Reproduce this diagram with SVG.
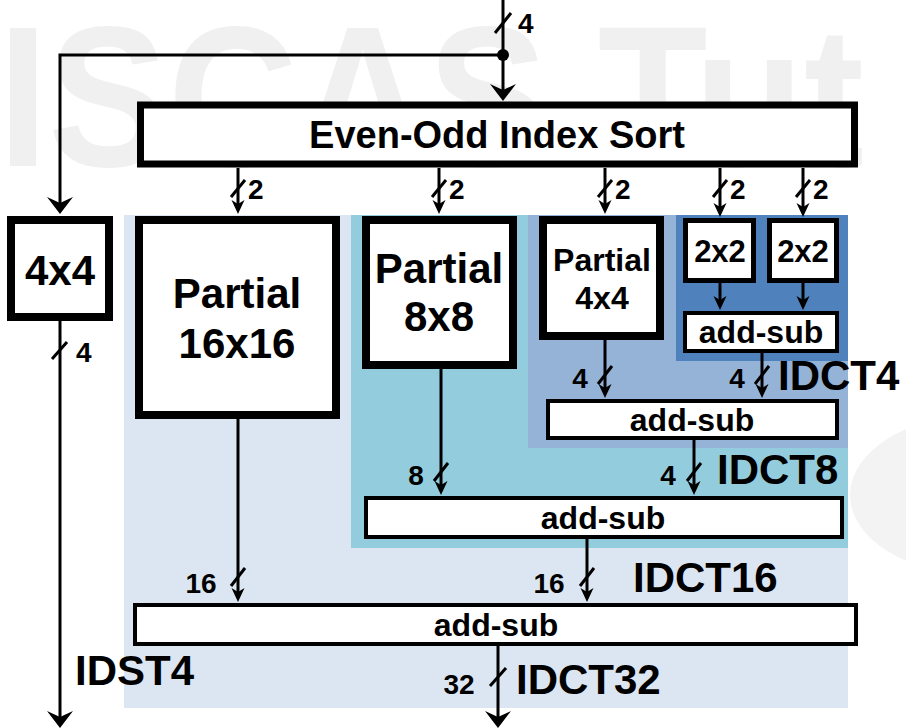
<svg xmlns="http://www.w3.org/2000/svg" width="906" height="728" viewBox="0 0 906 728">
<style>
.box{fill:#fff;stroke:#000}
.t{font-family:"Liberation Sans",Arial,sans-serif;font-weight:bold;fill:#000}
.big{font-size:42px}
.lbl{font-size:28px}
.as{font-size:32px}
.c{text-anchor:middle}
.ln{fill:none;stroke:#000;stroke-width:3}
.sl{stroke:#000;stroke-width:3;fill:none}
</style>
<defs>
<marker id="ab" markerUnits="userSpaceOnUse" markerWidth="30" markerHeight="30" viewBox="-20 -15 25 30" refX="-4" refY="0" orient="auto" overflow="visible">
<path d="M0,0 L-17,-13 L-11,0 L-17,13 Z" fill="#000"/>
</marker>
<marker id="as" markerUnits="userSpaceOnUse" markerWidth="20" markerHeight="20" viewBox="-16 -8 20 16" refX="-4" refY="0" orient="auto" overflow="visible">
<path d="M0,0 L-14,-6.5 L-10,0 L-14,6.5 Z" fill="#000"/>
</marker>
</defs>
<rect width="906" height="728" fill="#fff"/>
<g id="watermark">
<text x="-2" y="166" font-family="Liberation Sans,Arial,sans-serif" font-weight="bold" font-size="200" fill="#f0f0f0" textLength="866" lengthAdjust="spacingAndGlyphs">ISCAS Tut</text>
<ellipse cx="980" cy="495" rx="130" ry="80" fill="#f3f3f3"/>
</g>
<g id="regions">
<rect id="idct32-bg" x="124" y="215" width="724" height="493" fill="#dce6f2"/>
<rect id="idct16-bg" x="351" y="215" width="497" height="333" fill="#93cddd"/>
<rect id="idct8-bg" x="528" y="215" width="320" height="233" fill="#95b3d7"/>
<rect id="idct4-bg" x="676" y="215" width="172" height="146" fill="#4f81bd"/>
</g>
<g id="connectors">
<line class="ln" x1="503" y1="0" x2="503" y2="97" marker-end="url(#ab)"/>
<path class="ln" d="M503,55 H60 V210" marker-end="url(#ab)"/>
<circle cx="503" cy="55" r="6" fill="#000"/>
<line class="ln" x1="238" y1="168" x2="238" y2="210" marker-end="url(#as)"/>
<line class="ln" x1="439" y1="168" x2="439" y2="210" marker-end="url(#as)"/>
<line class="ln" x1="605" y1="168" x2="605" y2="210" marker-end="url(#as)"/>
<line class="ln" x1="720" y1="168" x2="720" y2="213" marker-end="url(#as)"/>
<line class="ln" x1="803" y1="168" x2="803" y2="213" marker-end="url(#as)"/>
<line class="ln" x1="720" y1="283" x2="720" y2="306" marker-end="url(#as)"/>
<line class="ln" x1="803" y1="283" x2="803" y2="306" marker-end="url(#as)"/>
<line class="ln" x1="762" y1="353" x2="762" y2="394" marker-end="url(#as)"/>
<line class="ln" x1="605" y1="340" x2="605" y2="394" marker-end="url(#as)"/>
<line class="ln" x1="694" y1="440" x2="694" y2="491" marker-end="url(#as)"/>
<line class="ln" x1="441" y1="369" x2="441" y2="491" marker-end="url(#as)"/>
<line class="ln" x1="587" y1="539" x2="587" y2="598" marker-end="url(#as)"/>
<line class="ln" x1="238" y1="419" x2="238" y2="598" marker-end="url(#as)"/>
<line class="ln" x1="498" y1="646" x2="498" y2="724" marker-end="url(#ab)"/>
<line class="ln" x1="60" y1="321" x2="60" y2="724" marker-end="url(#ab)"/>
<g id="slashes">
<line class="sl" x1="495" y1="33" x2="511" y2="13"/>
<line class="sl" x1="231" y1="197" x2="245" y2="180"/>
<line class="sl" x1="432" y1="197" x2="446" y2="180"/>
<line class="sl" x1="598" y1="197" x2="612" y2="180"/>
<line class="sl" x1="713" y1="197" x2="727" y2="180"/>
<line class="sl" x1="796" y1="197" x2="810" y2="180"/>
<line class="sl" x1="52" y1="359" x2="67" y2="342"/>
<line class="sl" x1="598" y1="384" x2="612" y2="366"/>
<line class="sl" x1="755" y1="384" x2="769" y2="366"/>
<line class="sl" x1="434" y1="481" x2="448" y2="463"/>
<line class="sl" x1="687" y1="481" x2="701" y2="463"/>
<line class="sl" x1="231" y1="586" x2="245" y2="568"/>
<line class="sl" x1="580" y1="586" x2="594" y2="568"/>
<line class="sl" x1="490" y1="686" x2="506" y2="668"/>
</g>
<g id="edge-labels">
<text class="t lbl" x="518" y="33">4</text>
<text class="t lbl" x="248" y="199">2</text>
<text class="t lbl" x="449" y="199">2</text>
<text class="t lbl" x="615" y="199">2</text>
<text class="t lbl" x="730" y="199">2</text>
<text class="t lbl" x="813" y="199">2</text>
<text class="t lbl" x="76" y="362">4</text>
<text class="t lbl c" x="580" y="388">4</text>
<text class="t lbl c" x="737" y="388">4</text>
<text class="t lbl c" x="416" y="485">8</text>
<text class="t lbl c" x="668" y="485">4</text>
<text class="t lbl c" x="201" y="593">16</text>
<text class="t lbl c" x="549" y="593">16</text>
<text class="t lbl c" x="459" y="694">32</text>
</g>
</g>
<g id="sort">
<rect class="box" x="140.5" y="105" width="714" height="59" stroke-width="7"/>
<text class="t c" x="497" y="148" font-size="38">Even-Odd Index Sort</text>
</g>
<g id="n4x4">
<rect class="box" x="11" y="220" width="98" height="97" stroke-width="8"/>
<text class="t big c" x="60" y="285">4x4</text>
</g>
<g id="partial16">
<rect class="box" x="139" y="220" width="197" height="195" stroke-width="8"/>
<text class="t big c" x="237" y="308">Partial</text>
<text class="t big c" x="237" y="358">16x16</text>
</g>
<g id="partial8">
<rect class="box" x="366" y="220" width="147" height="145" stroke-width="8"/>
<text class="t big c" x="439" y="283">Partial</text>
<text class="t big c" x="439" y="331">8x8</text>
</g>
<g id="partial4">
<rect class="box" x="543" y="220" width="117" height="116" stroke-width="8"/>
<text class="t c" x="602" y="271" font-size="32">Partial</text>
<text class="t c" x="602" y="309" font-size="32">4x4</text>
</g>
<g id="n2x2a">
<rect class="box" x="685.5" y="220.5" width="68" height="60" stroke-width="5"/>
<text class="t c" x="720" y="262" font-size="31">2x2</text>
</g>
<g id="n2x2b">
<rect class="box" x="769.5" y="220.5" width="67" height="60" stroke-width="5"/>
<text class="t c" x="803" y="262" font-size="31">2x2</text>
</g>
<g id="addsub4">
<rect class="box" x="685" y="313" width="152" height="38" stroke-width="4"/>
<text class="t as c" x="761" y="343">add-sub</text>
</g>
<g id="addsub8">
<rect class="box" x="548" y="401" width="289" height="37" stroke-width="4"/>
<text class="t as c" x="692" y="431">add-sub</text>
</g>
<g id="addsub16">
<rect class="box" x="366" y="498" width="476" height="39" stroke-width="4"/>
<text class="t as c" x="603" y="529">add-sub</text>
</g>
<g id="addsub32">
<rect class="box" x="135" y="605" width="721" height="39" stroke-width="4"/>
<text class="t as c" x="496" y="636">add-sub</text>
</g>
<g id="region-labels">
<text class="t big" x="778" y="390">IDCT4</text>
<text class="t big" x="717" y="484">IDCT8</text>
<text class="t big" x="633" y="592">IDCT16</text>
<text class="t big" x="516" y="694">IDCT32</text>
<text class="t big" x="75" y="685">IDST4</text>
</g>
</svg>
